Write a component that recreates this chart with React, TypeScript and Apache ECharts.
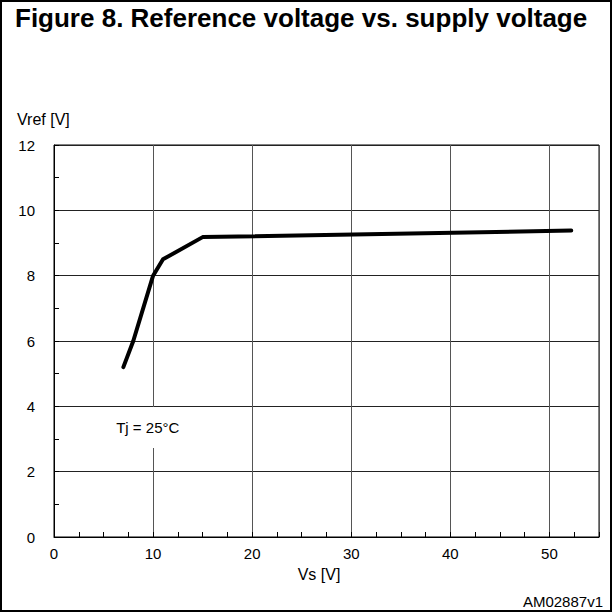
import React, { useEffect, useRef } from "react";
import * as echarts from "echarts";

const vs = [7.0, 8.0, 10.0, 11.0, 15.0, 52.2];
const vref = [5.2, 6.0, 8.0, 8.5, 9.18, 9.38];
const xTicks = [0, 10, 20, 30, 40, 50];
const yTicks = [0, 2, 4, 6, 8, 10, 12];
const titleText = "Figure 8. Reference voltage vs. supply voltage";
const xName = "Vs [V]";
const yName = "Vref [V]";
const noteText = "Tj = 25°C";
const noteAt = [9.46, 3.35];
const codeText = "AM02887v1";

const FONT = "'Liberation Sans', Arial, sans-serif";

export default function App() {
  const ref = useRef<HTMLDivElement>(null);
  useEffect(() => {
    if (!ref.current) return;
    const chart = echarts.init(ref.current, null, { renderer: "svg" });
    const grid = { left: 54, top: 145, width: 545, height: 392 };
    chart.setOption({
      animation: false,
      backgroundColor: "#fff",
      textStyle: { fontFamily: FONT },
      grid: { ...grid, show: true, borderColor: "#000", borderWidth: 1, backgroundColor: "transparent" },
      xAxis: [
        {
          type: "value",
          min: 0,
          max: 55,
          interval: 10,
          axisLine: { show: true, lineStyle: { color: "#000", width: 1 } },
          axisTick: { show: false },
          axisLabel: {
            color: "#000",
            fontSize: 15,
            fontFamily: FONT,
            margin: 9,
            showMaxLabel: false,
            formatter: (v: number) => (xTicks.includes(v) ? String(v) : ""),
          },
          splitLine: { show: true, lineStyle: { color: "#555", width: 1 } },
        },
        {
          type: "value",
          min: 0,
          max: 55,
          interval: 2.5,
          position: "bottom",
          axisLine: { show: false },
          axisLabel: { show: false },
          axisTick: { show: true, inside: true, length: 5, lineStyle: { color: "#000" } },
          splitLine: { show: false },
        },
      ],
      yAxis: {
        type: "value",
        min: 0,
        max: 12,
        interval: 2,
        axisLine: { show: true, lineStyle: { color: "#000", width: 1 } },
        axisTick: { show: true, inside: true, length: 5, lineStyle: { color: "#000" } },
        minorTick: { show: true, splitNumber: 2, length: 5, lineStyle: { color: "#000" } },
        axisLabel: {
          color: "#000",
          fontSize: 15,
          fontFamily: FONT,
          margin: 19,
          formatter: (v: number) => (yTicks.includes(v) ? String(v) : ""),
        },
        splitLine: { show: true, lineStyle: { color: "#222", width: 1 } },
      },
      series: [
        {
          type: "line",
          data: vs.map((x, i) => [x, vref[i]]),
          showSymbol: false,
          symbol: "none",
          lineStyle: { color: "#000", width: 4, cap: "round", join: "round" },
          markPoint: {
            symbol: "rect",
            symbolSize: 0,
            data: [
              {
                coord: noteAt,
                label: {
                  show: true,
                  position: "inside",
                  formatter: noteText,
                  color: "#000",
                  fontSize: 15,
                  fontFamily: FONT,
                  backgroundColor: "#fff",
                  padding: [10, 4, 16, 4],
                },
              },
            ],
          },
        },
      ],
      graphic: [
        {
          type: "rect",
          shape: { x: 1, y: 1, width: 610, height: 610 },
          style: { fill: "none", stroke: "#000", lineWidth: 2 },
          silent: true,
        },
        {
          type: "text",
          x: 15,
          y: 18,
          style: {
            text: titleText,
            font: `bold 26px ${FONT}`,
            fill: "#000",
            textVerticalAlign: "middle",
          },
        },
        {
          type: "text",
          x: 17,
          y: 119,
          style: { text: yName, font: `16px ${FONT}`, fill: "#000", textVerticalAlign: "middle" },
        },
        {
          type: "text",
          x: 319,
          y: 574,
          style: { text: xName, font: `16px ${FONT}`, fill: "#000", textAlign: "center", textVerticalAlign: "middle" },
        },
        {
          type: "text",
          x: 603,
          y: 601,
          style: { text: codeText, font: `15px ${FONT}`, fill: "#000", textAlign: "right", textVerticalAlign: "middle" },
        },
      ],
    });
    return () => chart.dispose();
  }, []);
  return (
    <div
      ref={ref}
      style={{ position: "fixed", left: 0, top: 0, width: 612, height: 612 }}
    />
  );
}
